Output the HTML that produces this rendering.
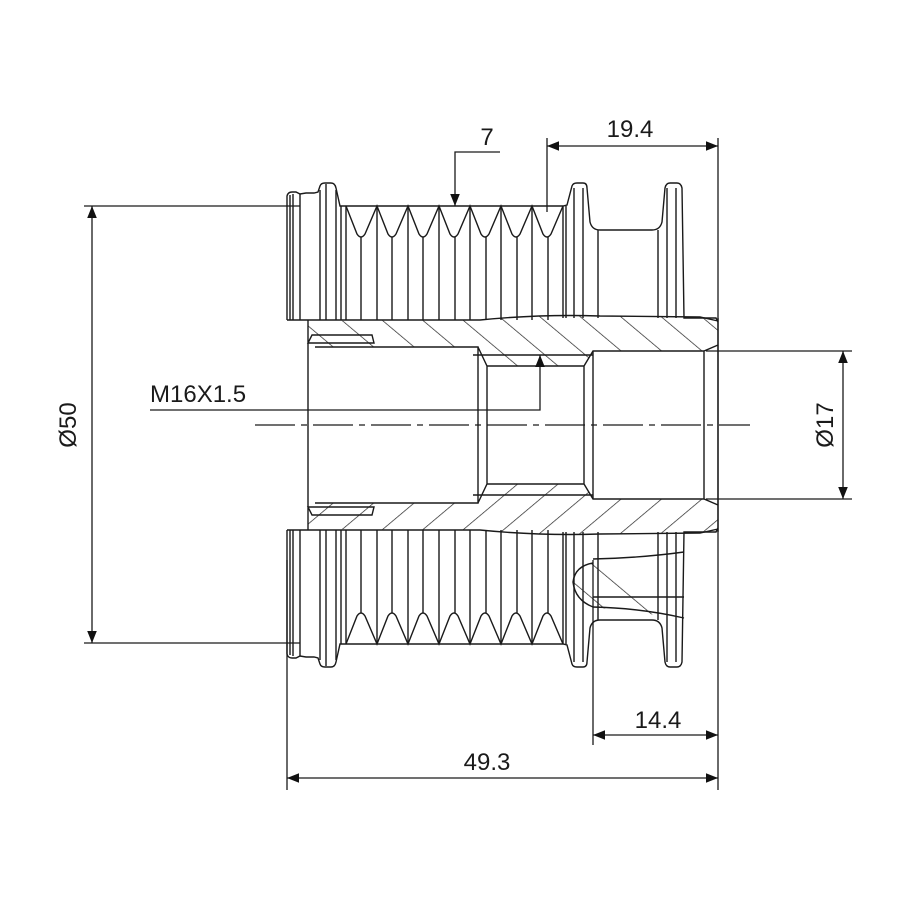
<!DOCTYPE html>
<html><head><style>html,body{margin:0;padding:0;background:#fff}svg{display:block}</style></head>
<body>
<svg width="900" height="900" viewBox="0 0 900 900" xmlns="http://www.w3.org/2000/svg" font-family="Liberation Sans, Arial, sans-serif">
<defs>
<pattern id="h" patternUnits="userSpaceOnUse" width="26" height="26" patternTransform="rotate(-50)">
<line x1="0" y1="0" x2="0" y2="26" stroke="#222" stroke-width="1.4"/>
</pattern>
<marker id="a" viewBox="0 0 10 10" refX="10" refY="5" markerWidth="12" markerHeight="12" markerUnits="userSpaceOnUse" orient="auto-start-reverse">
<path d="M0,1 L10,5 L0,9 z" fill="#111"/>
</marker>
</defs>
<g fill="none" stroke="#1a1a1a" stroke-width="1.4">
<g id="half">
<path d="M287,320 L287,196 Q288,192 292,192 L296,192 L300,194 L306,193 L314,193 L318,192 L320,186 Q321,183 325,183 L331,183 Q335,183 336,188 L340,206 L563,206 L567,205 L572,186 Q573,183 577,183 L583,183 Q587,183 587,188 L590,222 Q592,230 600,230 L652,230 Q660,230 662,222 L665,188 Q666,183 670,183 L677,183 Q681,183 682,188 L684,318 L716,318 L718,322"/>
<path d="M346,206 L357,234 Q361,240 365,234 L377,206 L388,234 Q392,240 396,234 L408,206 L419,234 Q423,240 427,234 L439,206 L450,234 Q454,240 458,234 L470,206 L481,234 Q485,240 489,234 L501,206 L512,234 Q516,240 520,234 L532,206 L543,234 Q547,240 551,234 L563,206"/>
<path d="M290,195V320 M293,194V320 M300,194V320 M320,190V320 M326,184V320 M336,190V320 M341,206V320 M346,206V320 M361,237V320 M377,206V320 M392,237V320 M408,206V320 M423,237V320 M439,206V320 M455,237V320 M470,206V320 M486,237V320 M501,206V320 M517,237V320 M532,206V320 M548,237V320 M563,206V318 M566,206V318 M574,188V318 M583,188V318 M598,230V318 M658,230V318 M667,188V318 M676,188V318"/>
<path d="M308,321 L480,320 Q540,314 600,316 L700,317 L718,321 L718,345 L706,351 L593,351 L584,366 L487,366 L478,355 L478,347 L315,347 L308,341 Z" fill="url(#h)" stroke="none"/>
<path d="M287,320 L480,320 Q540,314 600,316 L700,317 L718,321 M308,320 L308,425 M308,343 L374,343 L372,335 L312,335 Z M315,347 L478,347 L478,425 M473,355 L593,355 M478,347 L487,366 L584,366 L593,351 L704,351 L718,345 M487,366 L487,425 M584,366 L584,425 M593,351 L593,425 M704,351 L704,425 M718,318 L718,425"/>
</g>
<use href="#half" transform="translate(0,850) scale(1,-1)"/>
<path d="M593,563 Q575,566 573,582 Q575,600 593,607 Q630,612 684,618" fill="url(#h)" stroke="none"/>
<path d="M593,559 Q640,558 684,552 M593,597 L684,597 M593,563 Q575,566 573,582 Q575,600 593,607 Q640,608 684,618"/>
</g>
<line x1="255" y1="425" x2="750" y2="425" stroke="#1a1a1a" stroke-width="1.2" stroke-dasharray="40,6,6,6"/>
<g stroke="#1a1a1a" stroke-width="1.3" fill="none">
<line x1="84" y1="206" x2="300" y2="206"/><line x1="84" y1="643" x2="300" y2="643"/>
<line x1="92" y1="206" x2="92" y2="643" marker-start="url(#a)" marker-end="url(#a)"/>
<line x1="547" y1="138" x2="547" y2="212"/><line x1="718" y1="138" x2="718" y2="790"/>
<line x1="547" y1="146" x2="718" y2="146" marker-start="url(#a)" marker-end="url(#a)"/>
<polyline points="500,152 455,152 455,206" marker-end="url(#a)"/>
<polyline points="150,410 540,410 540,355" marker-end="url(#a)"/>
<line x1="706" y1="351" x2="852" y2="351"/><line x1="706" y1="499" x2="852" y2="499"/>
<line x1="843" y1="351" x2="843" y2="499" marker-start="url(#a)" marker-end="url(#a)"/>
<line x1="593" y1="560" x2="593" y2="745"/>
<line x1="593" y1="735" x2="718" y2="735" marker-start="url(#a)" marker-end="url(#a)"/>
<line x1="287" y1="560" x2="287" y2="790"/>
<line x1="287" y1="778" x2="718" y2="778" marker-start="url(#a)" marker-end="url(#a)"/>
</g>
<g fill="#1a1a1a" font-size="24">
<text x="630" y="137" text-anchor="middle">19.4</text>
<text x="487" y="145" text-anchor="middle">7</text>
<text x="150" y="402">M16X1.5</text>
<text x="658" y="728" text-anchor="middle">14.4</text>
<text x="487" y="770" text-anchor="middle">49.3</text>
<text transform="translate(76,425) rotate(-90)" text-anchor="middle">Ø50</text>
<text transform="translate(833,425) rotate(-90)" text-anchor="middle">Ø17</text>
</g>
</svg>
</body></html>
